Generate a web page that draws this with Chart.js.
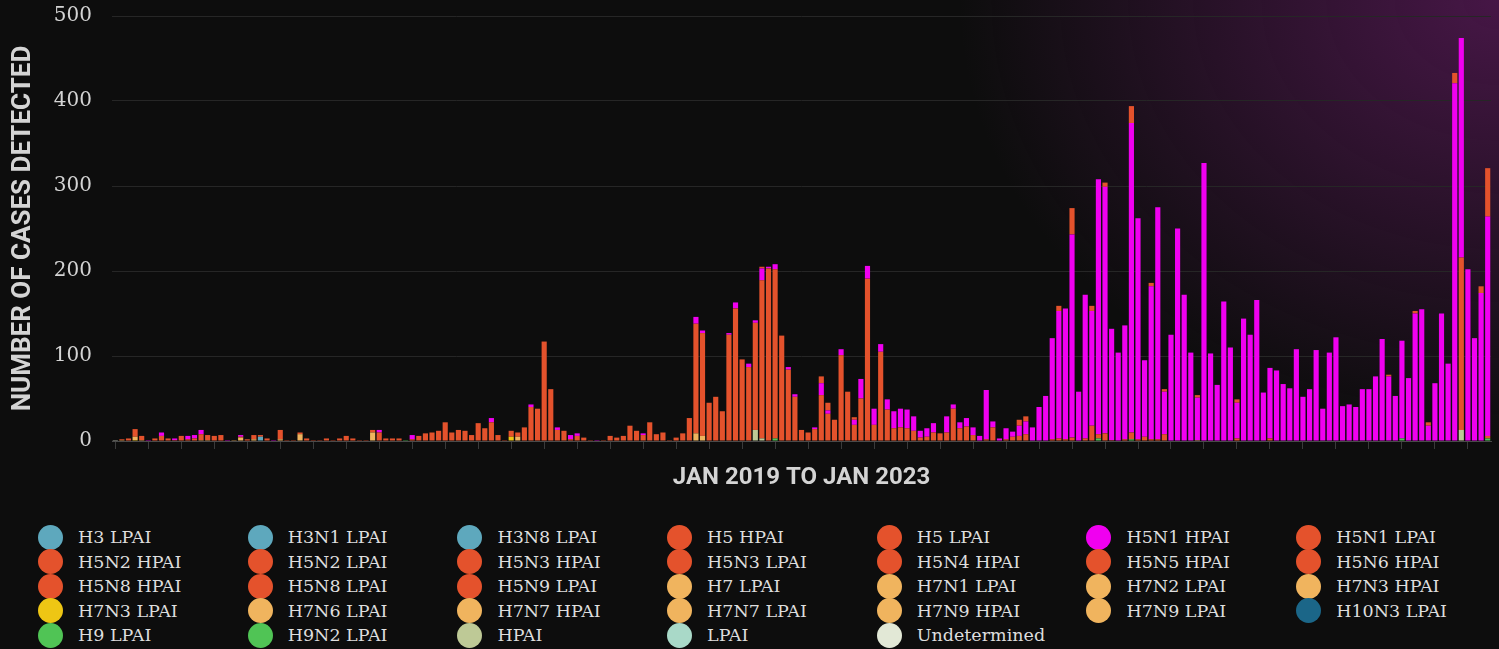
<!DOCTYPE html>
<html>

<head>
    <meta charset="utf-8">
    <title>Avian Influenza Cases Detected</title>
    <style>
        html, body { margin: 0; padding: 0; }
        body {
            width: 1499px;
            height: 649px;
            overflow: hidden;
            background: radial-gradient(ellipse 540px 440px at 100% 0%, rgba(105, 28, 105, 0.62), rgba(13, 13, 13, 0) 100%), #0d0d0d;
        }
        #container { position: absolute; left: 0; top: 0; width: 1499px; height: 500px; }
        #legend {
            position: absolute;
            left: 38px;
            top: 525px;
            display: grid;
            grid-template-columns: repeat(7, 209.7px);
            grid-auto-rows: 24.5px;
            font: 17.5px 'DejaVu Serif';
            color: #dedede;
        }
        .item { display: flex; align-items: center; white-space: nowrap; }
        .dot { width: 25px; height: 25px; border-radius: 50%; margin-right: 15px; flex: none; }
    </style>
</head>

<body>
    <div id="container">
        <canvas id="canvas"></canvas>
    </div>
    <div id="legend"></div>
    <script src="https://cdn.jsdelivr.net/npm/chart.js@4.4.0/dist/chart.umd.min.js"></script>
    <script>
        // legend order (alphabetical, read row by row)
        const seriesNames = [
            'H3 LPAI', 'H3N1 LPAI', 'H3N8 LPAI', 'H5 HPAI', 'H5 LPAI', 'H5N1 HPAI', 'H5N1 LPAI',
            'H5N2 HPAI', 'H5N2 LPAI', 'H5N3 HPAI', 'H5N3 LPAI', 'H5N4 HPAI', 'H5N5 HPAI', 'H5N6 HPAI',
            'H5N8 HPAI', 'H5N8 LPAI', 'H5N9 LPAI', 'H7 LPAI', 'H7N1 LPAI', 'H7N2 LPAI', 'H7N3 HPAI',
            'H7N3 LPAI', 'H7N6 LPAI', 'H7N7 HPAI', 'H7N7 LPAI', 'H7N9 HPAI', 'H7N9 LPAI', 'H10N3 LPAI',
            'H9 LPAI', 'H9N2 LPAI', 'HPAI', 'LPAI', 'Undetermined'
        ];
        const seriesColors = [
            '#5ea8bd', '#5ea8bd', '#5ea8bd', '#e4522c', '#e4522c', '#f000f0', '#e4522c',
            '#e4522c', '#e4522c', '#e4522c', '#e4522c', '#e4522c', '#e4522c', '#e4522c',
            '#e4522c', '#e4522c', '#e4522c', '#f0b45e', '#f0b45e', '#f0b45e', '#f0b45e',
            '#eec614', '#f0b45e', '#f0b45e', '#f0b45e', '#f0b45e', '#f0b45e', '#1b6688',
            '#50c455', '#50c455', '#bec996', '#a9d9c8', '#e2e8d6'
        ];

        // weekly categories, Jan 2019 to Jan 2023
        const weeks = [];
        for (let i = 0; i < 209; i++) {
            const d = new Date(Date.UTC(2019, 0, 1 + i * 7));
            weeks.push(d.toISOString().slice(0, 10));
        }

        const h5n8Hpai = [
            0, 1, 3, 9, 5, 0, 3, 6, 3, 1,
            6, 2, 3, 7, 6, 6, 7, 0, 0, 1,
            2, 5, 2, 3, 0, 11, 1, 1, 2, 3,
            1, 1, 3, 1, 3, 6, 3, 1, 1, 3,
            10, 3, 3, 3, 0, 2, 6, 9, 10, 12,
            22, 10, 13, 12, 7, 21, 15, 22, 7, 1,
            7, 5, 16, 40, 38, 117, 61, 13, 12, 2,
            6, 4, 1, 0, 1, 6, 4, 6, 18, 12,
            7, 22, 8, 10, 1, 4, 9, 27, 129, 121,
            45, 52, 35, 125, 156, 96, 87, 126, 186, 203,
            199, 124, 84, 52, 13, 10, 14, 54, 32, 25,
            101, 58, 19, 50, 191, 19, 105, 37, 15, 16,
            15, 12, 4, 5, 10, 9, 10, 38, 15, 17,
            7, 0, 2, 16, 0, 2, 5, 6, 8, 0,
            0, 0, 2, 3, 2, 4, 0, 3, 18, 5,
            9, 1, 0, 2, 8, 2, 5, 2, 2, 8,
            0, 0, 0, 0, 0, 0, 0, 0, 0, 0,
            3, 0, 0, 0, 0, 3, 0, 0, 0, 0,
            0, 0, 0, 0, 0, 0, 0, 0, 0, 0,
            0, 0, 0, 0, 0, 0, 0, 0, 0, 0,
            0, 0, 0, 0, 203, 0, 0, 0, 3
        ];
        const h5n1Hpai = [
            0, 0, 0, 0, 0, 1, 0, 4, 0, 2,
            0, 4, 4, 5, 0, 0, 0, 1, 0, 2,
            0, 0, 0, 0, 1, 0, 0, 0, 0, 0,
            0, 0, 0, 0, 0, 0, 0, 0, 0, 0,
            3, 0, 0, 0, 0, 5, 0, 0, 0, 0,
            0, 0, 0, 0, 0, 0, 0, 5, 0, 0,
            0, 0, 0, 3, 0, 0, 0, 3, 0, 5,
            3, 0, 0, 1, 0, 0, 0, 0, 0, 0,
            2, 0, 0, 0, 0, 0, 0, 0, 8, 3,
            0, 0, 0, 2, 7, 0, 4, 3, 14, 2,
            6, 0, 3, 3, 0, 0, 2, 14, 4, 0,
            7, 0, 6, 23, 15, 19, 9, 12, 20, 22,
            22, 17, 8, 10, 11, 0, 19, 5, 7, 10,
            9, 6, 58, 7, 3, 13, 6, 12, 15, 16,
            40, 53, 119, 150, 154, 239, 58, 169, 135, 300,
            290, 131, 104, 134, 364, 260, 90, 180, 273, 50,
            125, 250, 172, 104, 50, 327, 103, 66, 164, 110,
            42, 144, 125, 166, 57, 83, 83, 67, 62, 108,
            52, 61, 107, 38, 104, 122, 41, 43, 40, 61,
            61, 76, 120, 76, 53, 115, 74, 150, 155, 18,
            68, 150, 91, 421, 258, 202, 121, 174, 258
        ];
        const h5Hpai = [
            0, 0, 0, 0, 0, 0, 0, 0, 0, 0,
            0, 0, 0, 0, 0, 0, 0, 0, 0, 0,
            0, 0, 0, 0, 0, 0, 0, 0, 0, 0,
            0, 0, 0, 0, 0, 0, 0, 0, 0, 0,
            0, 0, 0, 0, 0, 0, 0, 0, 0, 0,
            0, 0, 0, 0, 0, 0, 0, 0, 0, 0,
            0, 0, 0, 0, 0, 0, 0, 0, 0, 0,
            0, 0, 0, 0, 0, 0, 0, 0, 0, 0,
            0, 0, 0, 0, 0, 0, 0, 0, 0, 0,
            0, 0, 0, 0, 0, 0, 0, 0, 2, 0,
            0, 0, 0, 0, 0, 0, 0, 8, 9, 0,
            0, 0, 3, 0, 0, 0, 0, 0, 0, 0,
            0, 0, 0, 0, 0, 0, 0, 0, 0, 0,
            0, 0, 0, 0, 0, 0, 0, 7, 6, 0,
            0, 0, 0, 6, 0, 31, 0, 0, 6, 0,
            5, 0, 0, 0, 20, 0, 0, 4, 0, 3,
            0, 0, 0, 0, 3, 0, 0, 0, 0, 0,
            4, 0, 0, 0, 0, 0, 0, 0, 0, 0,
            0, 0, 0, 0, 0, 0, 0, 0, 0, 0,
            0, 0, 0, 2, 0, 0, 0, 3, 0, 4,
            0, 0, 0, 12, 0, 0, 0, 8, 57
        ];
        const h7Lpai = [
            0, 1, 0, 4, 1, 0, 0, 0, 0, 0,
            0, 0, 0, 1, 1, 0, 0, 0, 1, 4,
            0, 2, 0, 0, 0, 2, 0, 0, 8, 0,
            0, 0, 0, 0, 0, 0, 0, 0, 0, 10,
            0, 0, 0, 0, 0, 0, 0, 0, 0, 0,
            0, 0, 0, 0, 0, 0, 0, 0, 0, 0,
            0, 5, 0, 0, 0, 0, 0, 0, 0, 0,
            0, 0, 0, 0, 0, 0, 0, 0, 0, 0,
            0, 0, 0, 0, 0, 0, 0, 0, 9, 6,
            0, 0, 0, 0, 0, 0, 0, 0, 0, 0,
            0, 0, 0, 0, 0, 0, 0, 0, 0, 0,
            0, 0, 0, 0, 0, 0, 0, 0, 0, 0,
            0, 0, 0, 0, 0, 0, 0, 0, 0, 0,
            0, 0, 0, 0, 0, 0, 0, 0, 0, 0,
            0, 0, 0, 0, 0, 0, 0, 0, 0, 0,
            0, 0, 0, 0, 0, 0, 0, 0, 0, 0,
            0, 0, 0, 0, 1, 0, 0, 0, 0, 0,
            0, 0, 0, 0, 0, 0, 0, 0, 0, 0,
            0, 0, 0, 0, 0, 0, 0, 0, 0, 0,
            0, 0, 0, 0, 0, 0, 0, 0, 0, 0,
            0, 0, 0, 0, 0, 0, 0, 0, 0
        ];
        const h7n3Lpai = [
            0, 0, 0, 1, 0, 0, 0, 0, 0, 0,
            0, 0, 0, 0, 0, 0, 0, 0, 0, 0,
            0, 0, 0, 0, 0, 0, 0, 0, 0, 0,
            0, 0, 0, 0, 0, 0, 0, 0, 0, 0,
            0, 0, 0, 0, 0, 0, 0, 0, 0, 0,
            0, 0, 0, 0, 0, 0, 0, 0, 0, 0,
            5, 0, 0, 0, 0, 0, 0, 0, 0, 0,
            0, 0, 0, 0, 0, 0, 0, 0, 0, 0,
            0, 0, 0, 0, 0, 0, 0, 0, 0, 0,
            0, 0, 0, 0, 0, 0, 0, 0, 0, 0,
            0, 0, 0, 0, 0, 0, 0, 0, 0, 0,
            0, 0, 0, 0, 0, 0, 0, 0, 0, 0,
            0, 0, 0, 0, 0, 0, 0, 0, 0, 0,
            0, 0, 0, 0, 0, 0, 0, 0, 0, 0,
            0, 0, 0, 0, 0, 0, 0, 0, 0, 0,
            0, 0, 0, 0, 0, 0, 0, 0, 0, 0,
            0, 0, 0, 0, 0, 0, 0, 0, 0, 0,
            0, 0, 0, 0, 0, 0, 0, 0, 0, 0,
            0, 0, 0, 0, 0, 0, 0, 0, 0, 0,
            0, 0, 0, 0, 0, 0, 0, 0, 0, 0,
            0, 0, 0, 0, 0, 0, 0, 0, 0
        ];
        const h3n8Lpai = [
            0, 0, 0, 0, 0, 0, 0, 0, 0, 0,
            0, 0, 0, 0, 0, 0, 0, 0, 0, 0,
            0, 0, 5, 0, 0, 0, 0, 0, 0, 0,
            0, 0, 0, 0, 0, 0, 0, 0, 0, 0,
            0, 0, 0, 0, 0, 0, 0, 0, 0, 0,
            0, 0, 0, 0, 0, 0, 0, 0, 0, 0,
            0, 0, 0, 0, 0, 0, 0, 0, 0, 0,
            0, 0, 0, 0, 0, 0, 0, 0, 0, 0,
            0, 0, 0, 0, 0, 0, 0, 0, 0, 0,
            0, 0, 0, 0, 0, 0, 0, 0, 0, 0,
            0, 0, 0, 0, 0, 0, 0, 0, 0, 0,
            0, 0, 0, 0, 0, 0, 0, 0, 0, 0,
            0, 0, 0, 0, 0, 0, 0, 0, 0, 0,
            0, 0, 0, 0, 0, 0, 0, 0, 0, 0,
            0, 0, 0, 0, 0, 0, 0, 0, 0, 0,
            0, 0, 0, 0, 0, 0, 0, 0, 0, 0,
            0, 0, 0, 0, 0, 0, 0, 0, 0, 0,
            0, 0, 0, 0, 0, 0, 0, 0, 0, 0,
            0, 0, 0, 0, 0, 0, 0, 0, 0, 0,
            0, 0, 0, 0, 0, 0, 0, 0, 0, 0,
            0, 0, 0, 0, 0, 0, 0, 0, 0
        ];
        const hpai = [
            0, 0, 0, 0, 0, 0, 0, 0, 0, 0,
            0, 0, 0, 0, 0, 0, 0, 0, 0, 0,
            0, 0, 0, 0, 0, 0, 0, 0, 0, 0,
            0, 0, 0, 0, 0, 0, 0, 0, 0, 0,
            0, 0, 0, 0, 0, 0, 0, 0, 0, 0,
            0, 0, 0, 0, 0, 0, 0, 0, 0, 0,
            0, 0, 0, 0, 0, 0, 0, 0, 0, 0,
            0, 0, 0, 0, 0, 0, 0, 0, 0, 0,
            0, 0, 0, 0, 0, 0, 0, 0, 0, 0,
            0, 0, 0, 0, 0, 0, 0, 13, 3, 0,
            0, 0, 0, 0, 0, 0, 0, 0, 0, 0,
            0, 0, 0, 0, 0, 0, 0, 0, 0, 0,
            0, 0, 0, 0, 0, 0, 0, 0, 0, 0,
            0, 0, 0, 0, 0, 0, 0, 0, 0, 0,
            0, 0, 0, 0, 0, 0, 0, 0, 0, 0,
            0, 0, 0, 0, 0, 0, 0, 0, 0, 0,
            0, 0, 0, 0, 0, 0, 0, 0, 0, 0,
            0, 0, 0, 0, 0, 0, 0, 0, 0, 0,
            0, 0, 0, 0, 0, 0, 0, 0, 0, 0,
            0, 0, 0, 0, 0, 0, 0, 0, 0, 0,
            0, 0, 0, 0, 13, 0, 0, 0, 0
        ];
        const h9Lpai = [
            0, 0, 0, 0, 0, 0, 0, 0, 0, 0,
            0, 0, 0, 0, 0, 0, 0, 0, 0, 0,
            0, 0, 0, 0, 0, 0, 0, 0, 0, 0,
            0, 0, 0, 0, 0, 0, 0, 0, 0, 0,
            0, 0, 0, 0, 1, 0, 0, 0, 0, 0,
            0, 0, 0, 0, 0, 0, 0, 0, 0, 0,
            0, 0, 0, 0, 0, 0, 0, 0, 0, 0,
            0, 0, 0, 0, 0, 0, 0, 0, 0, 0,
            0, 0, 0, 0, 0, 0, 0, 0, 0, 0,
            0, 0, 0, 0, 0, 0, 0, 0, 0, 0,
            3, 0, 0, 0, 0, 0, 0, 0, 0, 0,
            0, 0, 0, 0, 0, 0, 0, 0, 0, 0,
            0, 0, 0, 0, 0, 0, 0, 0, 0, 0,
            0, 0, 0, 0, 0, 0, 0, 0, 0, 0,
            0, 0, 0, 0, 0, 0, 0, 0, 0, 3,
            0, 0, 0, 0, 2, 0, 0, 0, 0, 0,
            0, 0, 0, 0, 0, 0, 0, 0, 0, 0,
            0, 0, 0, 0, 0, 0, 0, 0, 0, 0,
            0, 0, 0, 0, 0, 0, 0, 0, 0, 0,
            0, 0, 0, 0, 0, 3, 0, 0, 0, 0,
            0, 0, 0, 0, 0, 0, 0, 0, 3
        ];
        const undetermined = [
            1, 0, 0, 0, 0, 0, 0, 0, 0, 0,
            0, 0, 0, 0, 0, 0, 0, 0, 0, 0,
            0, 0, 0, 0, 0, 0, 0, 0, 0, 0,
            0, 0, 0, 0, 0, 0, 0, 0, 0, 0,
            0, 0, 0, 0, 0, 0, 0, 0, 0, 0,
            0, 0, 0, 0, 0, 0, 0, 0, 0, 0,
            0, 0, 0, 0, 0, 0, 0, 0, 0, 0,
            0, 0, 0, 0, 0, 0, 0, 0, 0, 0,
            0, 0, 0, 0, 0, 0, 0, 0, 0, 0,
            0, 0, 0, 0, 0, 0, 0, 0, 0, 0,
            0, 0, 0, 0, 0, 0, 0, 0, 0, 0,
            0, 0, 0, 0, 0, 0, 0, 0, 0, 0,
            0, 0, 0, 0, 0, 0, 0, 0, 0, 0,
            0, 0, 0, 0, 0, 0, 0, 0, 0, 0,
            0, 0, 0, 0, 0, 0, 0, 0, 0, 0,
            0, 0, 0, 0, 0, 0, 0, 0, 0, 0,
            0, 0, 0, 0, 0, 0, 0, 0, 0, 0,
            0, 0, 0, 0, 0, 0, 0, 0, 0, 0,
            0, 0, 0, 0, 0, 0, 0, 0, 0, 0,
            0, 0, 0, 0, 0, 0, 0, 0, 0, 0,
            0, 0, 0, 0, 0, 0, 0, 0, 0
        ];

        // bottom of the stack first
        const stacked = [
            ['Undetermined', undetermined],
            ['HPAI', hpai],
            ['H9 LPAI', h9Lpai],
            ['H3N8 LPAI', h3n8Lpai],
            ['H7N3 LPAI', h7n3Lpai],
            ['H7 LPAI', h7Lpai],
            ['H5N8 HPAI', h5n8Hpai],
            ['H5N1 HPAI', h5n1Hpai],
            ['H5 HPAI', h5Hpai]
        ];

        const textColor = '#d4d4d4';
        const datasets = stacked.map(([name, values]) => ({
            label: name,
            data: values,
            backgroundColor: seriesColors[seriesNames.indexOf(name)],
            borderWidth: 0,
            barPercentage: 0.78,
            categoryPercentage: 1
        }));

        const ctx = document.getElementById('canvas').getContext('2d');
        window.myBarChart = new Chart(ctx, {
            type: 'bar',
            data: { labels: weeks, datasets: datasets },
            options: {
                responsive: true,
                maintainAspectRatio: false,
                animation: false,
                layout: { padding: { top: 16, right: 8, left: 0, bottom: 0 } },
                plugins: {
                    legend: { display: false },
                    tooltip: { enabled: false }
                },
                scales: {
                    x: {
                        stacked: true,
                        ticks: { display: false },
                        grid: {
                            offset: false,
                            drawOnChartArea: false,
                            tickLength: 8,
                            color: (c) => c.index % 5 === 0 ? '#3a3a3a' : 'rgba(0,0,0,0)'
                        },
                        border: { color: '#4a4a4a' },
                        title: {
                            display: true,
                            text: 'JAN 2019 TO JAN 2023',
                            color: textColor,
                            font: { family: 'Roboto', size: 24, weight: 'bold' },
                            padding: { top: 0, bottom: 8 }
                        },
                        afterFit: (s) => { s.height = 59; }
                    },
                    y: {
                        stacked: true,
                        min: 0,
                        max: 500,
                        ticks: {
                            stepSize: 100,
                            padding: 20,
                            color: textColor,
                            font: { family: 'DejaVu Serif', size: 20 }
                        },
                        grid: { color: '#262626', drawTicks: false },
                        border: { display: false },
                        title: {
                            display: true,
                            text: 'NUMBER OF CASES DETECTED',
                            color: textColor,
                            font: { family: 'Roboto', size: 26, weight: 'bold' },
                            padding: { top: 8, bottom: 0 }
                        },
                        afterFit: (s) => {
                            s.width = 112;
                            s.paddingTop = 0;
                            s.paddingBottom = 0;
                        }
                    }
                }
            }
        });

        // html legend, 7 columns like the original
        const legend = document.getElementById('legend');
        seriesNames.forEach((name, i) => {
            const item = document.createElement('div');
            item.className = 'item';
            const dot = document.createElement('span');
            dot.className = 'dot';
            dot.style.background = seriesColors[i];
            const label = document.createElement('span');
            label.textContent = name;
            item.appendChild(dot);
            item.appendChild(label);
            legend.appendChild(item);
        });
    </script>
</body>

</html>
